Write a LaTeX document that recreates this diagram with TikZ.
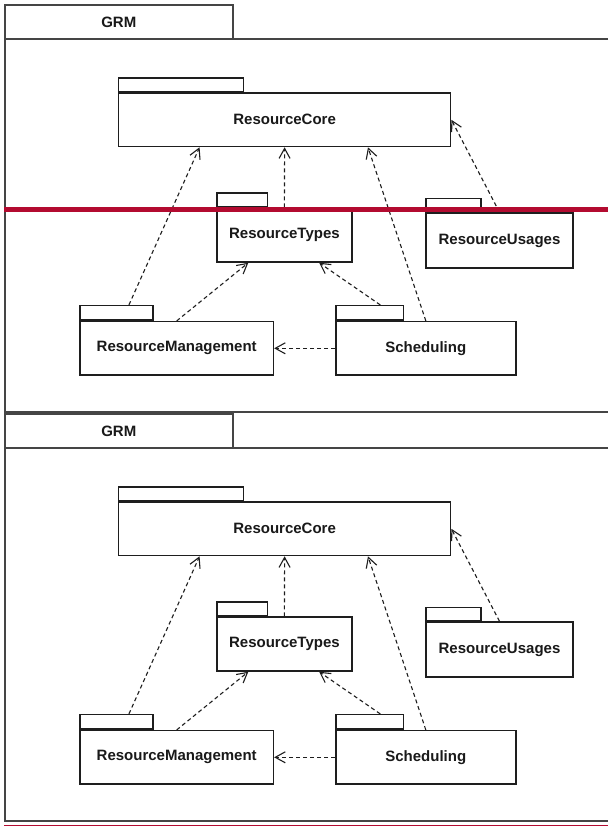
\documentclass[tikz,border=0pt]{standalone}
\usepackage{fontspec}
\setmainfont{Liberation Sans}
\usetikzlibrary{arrows.meta,calc}
\definecolor{framegray}{HTML}{454545}
\definecolor{boxline}{HTML}{1E1E1E}
\definecolor{redline}{HTML}{B30B30}
\tikzset{
  pkgbody/.style={draw=boxline, line width=1.5pt, rectangle, inner sep=0pt,
    font=\fontsize{15}{18}\selectfont\bfseries, text=black!90},
  pkgtab/.style={draw=boxline, line width=1.5pt, rectangle, inner sep=0pt, anchor=south west},
  dep/.style={draw=boxline, line width=1.1pt, dash pattern=on 4pt off 3pt,
    -{Straight Barb[length=10pt,width=11pt,line width=1.1pt]}},
  framel/.style={draw=framegray, line width=2pt},
  titletext/.style={font=\fontsize{15}{18}\selectfont\bfseries, text=black!90, inner sep=0pt},
}
\newcommand\grmcopy[2]{%
\begin{scope}[shift={(0,#2)}]
  % frame and title tab
  \draw[framel] (5,5) rectangle (232.7,38.5);
  \node[titletext] (grm#1) at (118.8,22) {GRM};
  \draw[framel] (608,38.5) -- (5,38.5) -- (5,412) -- (608,412);
  % packages
  \node[pkgbody, minimum width=332pt, minimum height=53.5pt] (rc#1) at (284.6,119.8) {ResourceCore};
  \node[pkgtab, minimum width=124.8pt, minimum height=13.5pt] (rct#1) at (rc#1.north west) {};
  \node[pkgbody, minimum width=134.7pt, minimum height=54pt] (rt#1) at (284.4,235) {ResourceTypes};
  \node[pkgtab, minimum width=50.6pt, minimum height=13.5pt] (rtt#1) at (rt#1.north west) {};
  \node[pkgbody, minimum width=147.4pt, minimum height=55pt] (ru#1) at (499.5,240.5) {ResourceUsages};
  \node[pkgtab, minimum width=55.2pt, minimum height=13pt] (rut#1) at (ru#1.north west) {};
  \node[pkgbody, minimum width=193.4pt, minimum height=53.3pt] (rm#1) at (176.7,348.3) {ResourceManagement};
  \node[pkgtab, minimum width=73pt, minimum height=14.5pt] (rmt#1) at (rm#1.north west) {};
  \node[pkgbody, minimum width=180pt, minimum height=53.3pt] (sc#1) at (425.8,348.3) {Scheduling};
  \node[pkgtab, minimum width=67.5pt, minimum height=14.5pt] (sct#1) at (sc#1.north west) {};
  % dependencies
  \draw[dep] ($(rmt#1.north west)!0.667!(rmt#1.north east)$) -- ($(rc#1.south west)!0.245!(rc#1.south east)$);
  \draw[dep] (rm#1.north) -- ($(rt#1.south west)!0.235!(rt#1.south east)$);
  \draw[dep] ($(sct#1.north west)!0.655!(sct#1.north east)$) -- ($(rt#1.south west)!0.755!(rt#1.south east)$);
  \draw[dep] (sc#1.north) -- ($(rc#1.south west)!0.75!(rc#1.south east)$);
  \draw[dep] (sc#1.west) -- (rm#1.east);
  \draw[dep] (rt#1.north) -- (rc#1.south);
  \draw[dep] (ru#1.north) -- (rc#1.east);
\end{scope}}
\begin{document}
\begin{tikzpicture}[x=1pt,y=-1pt]
  \useasboundingbox (0,0) rectangle (608,827);
  \fill[white] (0,0) rectangle (608,827);
  \grmcopy{a}{0}
  \grmcopy{b}{409}
  \draw[redline, line width=4.5pt] (4,209.3) -- (608,209.3);
  \draw[redline, line width=1.6pt] (4,825.6) -- (608,825.6);
\end{tikzpicture}
\end{document}
